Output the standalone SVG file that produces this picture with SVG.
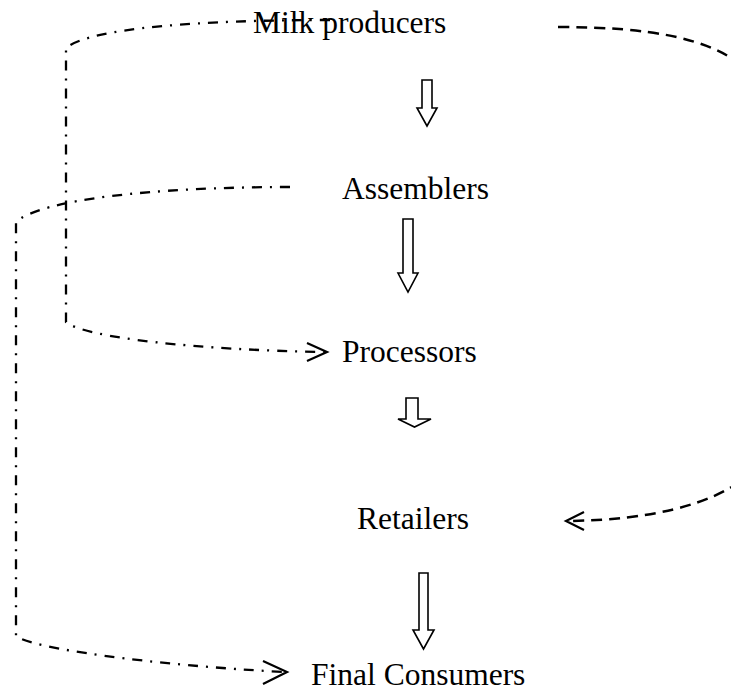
<svg xmlns="http://www.w3.org/2000/svg" width="731" height="695" viewBox="0 0 731 695">
<style>
.lbl{font-family:"Liberation Serif","Times New Roman",serif;font-size:31.5px;fill:#000}
.blk{fill:#fff;stroke:#000;stroke-width:1.6;stroke-linejoin:miter}
.dd{fill:none;stroke:#000;stroke-width:2.3;stroke-dasharray:10 8 2 8}
.ds{fill:none;stroke:#000;stroke-width:2.5;stroke-dasharray:11 7}
.hd{fill:none;stroke:#000;stroke-width:2.2}
</style>
<rect width="731" height="695" fill="#fff"/>
<g id="connectors">
<path class="dd" d="M330,20 C200,20 90,28 66,48 L66,322 C85,338 200,350 325,352"/>
<polyline class="hd" points="307,343 327,352 307,361"/>
<path class="dd" d="M290,187 C150,187 40,200 16,222 L16,636 C30,648 150,665 285,672"/>
<polyline class="hd" points="263,661 287,672 263,684"/>
<path class="ds" d="M558,27 C650,27 710,38 745,68 L745,478 C710,505 650,520 568,521"/>
<polyline class="hd" points="584,512 566,521 584,530"/>
<polygon class="blk" points="422,80 432,80 432,108 437,108 427,126 417,108 422,108"/>
<polygon class="blk" points="403,219 413,219 413,273 418,273 408,292 398,273 403,273"/>
<polygon class="blk" points="406,398 418,398 418,419 431,419 414.5,427 398,419 406,419"/>
<polygon class="blk" points="419,573 428,573 428,630 434,630 423.5,649 413,630 419,630"/>
</g>
<g id="milk-producers"><text class="lbl" x="253" y="33">Milk producers</text></g>
<g id="assemblers"><text class="lbl" x="342" y="199">Assemblers</text></g>
<g id="processors"><text class="lbl" x="342" y="362">Processors</text></g>
<g id="retailers"><text class="lbl" x="357" y="529">Retailers</text></g>
<g id="final-consumers"><text class="lbl" x="311" y="685">Final Consumers</text></g>
</svg>
